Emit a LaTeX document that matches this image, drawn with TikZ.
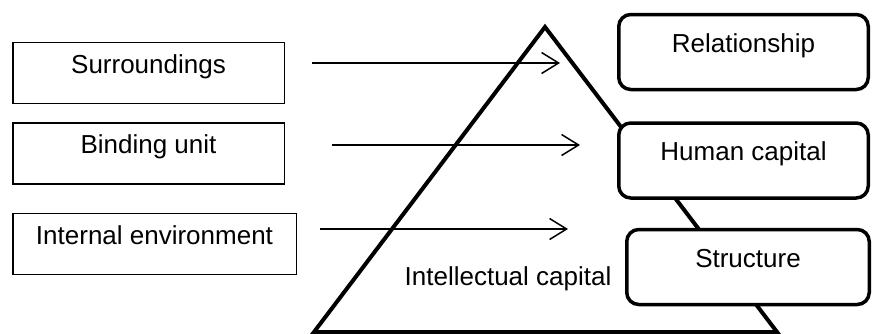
\documentclass[tikz,border=0pt]{standalone}
\usepackage{fontspec}
\setmainfont{Liberation Sans}
\usepackage{tikz}
\usetikzlibrary{arrows.meta}

\begin{document}
\begin{tikzpicture}[x=1pt, y=-1pt,
    every node/.style={font=\fontsize{26}{30}\selectfont},
    leftbox/.style={draw, line width=1.5pt, inner sep=0pt,
      minimum width=#1, text height=30.5pt, text depth=30.5pt},
    rightbox/.style={draw, fill=white, line width=3.5pt, rounded corners=12pt,
      inner sep=0pt, minimum width=#1, text height=37.5pt, text depth=37.5pt},
    flow/.style={line width=1.5pt, -{Straight Barb[length=17pt, width=21pt]}}]
    \useasboundingbox (0,0) rectangle (872,333);

    % --- Piramide ---
    \draw[line width=4pt, line join=miter] (545,27) -- (777,332) -- (314,332) -- cycle;
    \node[anchor=base] (ic) at (508,285) {Intellectual capital};

    % --- Cajas izquierda ---
    \node[leftbox=271.5pt] (surr) at (148.5,73) {Surroundings};
    \node[leftbox=271.5pt] (bind) at (148.5,153.5) {Binding unit};
    \node[leftbox=283.5pt] (intenv) at (154.5,244) {Internal environment};

    % --- Cajas derecha ---
    \node[rightbox=249.5pt] (rel) at (743.5,52) {Relationship};
    \node[rightbox=249.5pt] (hum) at (743.5,160.5) {Human capital};
    \node[rightbox=242.5pt] (struc) at (748,267) {Structure};

    % --- Flechas ---
    \foreach \i/\xa/\xb/\yy in {1/312/560/63, 2/332/580/145, 3/320/568/229} {
      \coordinate (s\i) at (\xa,\yy);
      \coordinate (e\i) at (\xb,\yy);
      \draw[flow] (s\i) -- (e\i);
    }

  \end{tikzpicture}
\end{document}
